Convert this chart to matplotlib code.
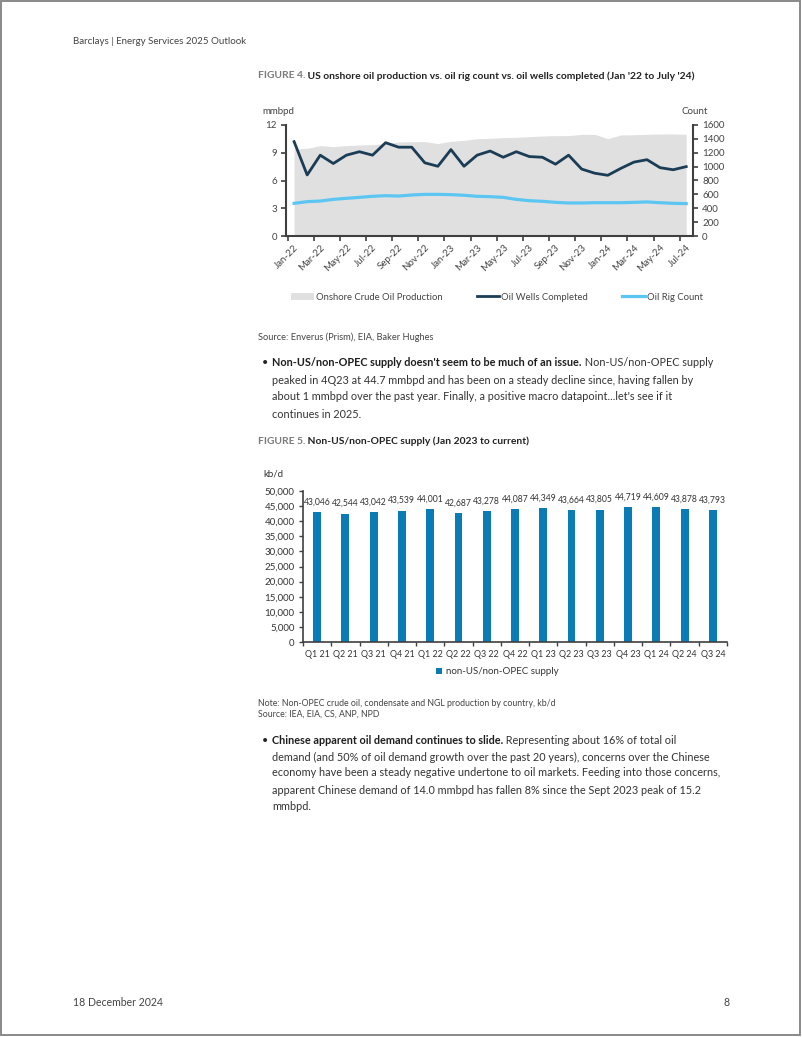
import matplotlib
matplotlib.use('Agg')
import matplotlib.pyplot as plt
from matplotlib.patches import Patch, Rectangle
from matplotlib.lines import Line2D
from matplotlib.ticker import FuncFormatter, FixedLocator
import numpy as np

### Data

months = ['Jan-22', 'Feb-22', 'Mar-22', 'Apr-22', 'May-22', 'Jun-22', 'Jul-22', 'Aug-22',
          'Sep-22', 'Oct-22', 'Nov-22', 'Dec-22', 'Jan-23', 'Feb-23', 'Mar-23', 'Apr-23',
          'May-23', 'Jun-23', 'Jul-23', 'Aug-23', 'Sep-23', 'Oct-23', 'Nov-23', 'Dec-23',
          'Jan-24', 'Feb-24', 'Mar-24', 'Apr-24', 'May-24', 'Jun-24', 'Jul-24']

# onshore crude production, mmbpd (left axis)
production = [9.40, 9.48, 9.77, 9.66, 9.77, 9.84, 9.87, 10.00, 10.16, 10.20, 10.20, 10.00,
              10.23, 10.34, 10.52, 10.56, 10.63, 10.67, 10.74, 10.81, 10.85, 10.85, 10.99,
              10.99, 10.52, 10.92, 10.95, 10.99, 11.03, 11.03, 10.99]

# oil wells completed, count (right axis)
wells = [1360, 880, 1165, 1045, 1165, 1215, 1165, 1345, 1280, 1280, 1055, 1005, 1245, 1005,
         1165, 1225, 1135, 1215, 1145, 1135, 1035, 1165, 965, 905, 875, 975, 1065, 1100,
         985, 955, 1000]

# oil rig count (right axis)
rigs = [471, 495, 504, 528, 543, 557, 572, 581, 576, 591, 600, 600, 596, 587, 572, 567,
        557, 528, 509, 500, 485, 476, 476, 480, 480, 480, 485, 491, 480, 471, 467]

quarters = ['Q1 21', 'Q2 21', 'Q3 21', 'Q4 21', 'Q1 22', 'Q2 22', 'Q3 22', 'Q4 22',
            'Q1 23', 'Q2 23', 'Q3 23', 'Q4 23', 'Q1 24', 'Q2 24', 'Q3 24']
supply = [43046, 42544, 43042, 43539, 44001, 42687, 43278, 44087, 44349, 43664, 43805,
          44719, 44609, 43878, 43793]

### Styling

W, H = 802, 1037
FONT = 'Lato'
plt.rcParams['font.family'] = [FONT, 'DejaVu Sans']

c_area = '#e0e0e0'
c_wells = '#1b3c55'
c_rigs = '#5cc6f2'
c_bar = '#0a7bb5'
c_axis = '#404040'
c_text = '#333333'
c_grey = '#7a7a7a'

def fx(x):
    return x / W

def fy(y):
    return 1 - y / H

fig = plt.figure(figsize=(W / 100, H / 100), dpi=100)
fig.patch.set_facecolor('white')
fig.patches.append(Rectangle((fx(1), fy(1035)), fx(799), 1034 / H, transform=fig.transFigure,
                             fill=False, ec='#808080', lw=1.3))

# header / footer
fig.text(fx(73), fy(42), 'Barclays | Energy Services 2025 Outlook', fontsize=7.0,
         color='#444444', va='center')
fig.text(fx(73), fy(1003), '18 December 2024', fontsize=7.6, color='#444444', va='center')
fig.text(fx(727), fy(1003), '8', fontsize=7.6, color='#444444', va='center', ha='center')

renderer = fig.canvas.get_renderer()

def two_part(x, y, first, second, size, c1, c2, w1='bold', w2='normal'):
    t = fig.text(fx(x), fy(y), first, fontsize=size, color=c1, weight=w1, va='center')
    bb = t.get_window_extent(renderer)
    fig.text(bb.x1 / W, fy(y), second, fontsize=size, color=c2, weight=w2, va='center')

def bullet(x, ys, lines, bold):
    fig.text(fx(x - 10), fy(ys[0]), '\u2022', fontsize=7.8, color='#222222', va='center')
    two_part(x, ys[0], bold, ' ' + lines[0], 7.8, '#1e1e1e', c_text)
    for y, line in zip(ys[1:], lines[1:]):
        fig.text(fx(x), fy(y), line, fontsize=7.8, color=c_text, va='center')

### Figure 4

two_part(258, 76, 'FIGURE 4.', ' US onshore oil production vs. oil rig count vs. oil wells completed (Jan \'22 to July \'24)',
         7.4, c_grey, '#222222', 'bold', 'bold')

ax1 = fig.add_axes([fx(286), fy(236), fx(693) - fx(286), fy(125) - fy(236)])
ax1b = ax1.twinx()
x = np.arange(len(months))

ax1.fill_between(x, production, 0, color=c_area, lw=0)
ax1b.plot(x, wells, color=c_wells, lw=2.0)
ax1b.plot(x, rigs, color=c_rigs, lw=2.3)

ax1.set_xlim(-0.62, len(months) - 0.48)
ax1.set_ylim(0, 12)
ax1.set_yticks([0, 3, 6, 9, 12])
ax1b.set_ylim(0, 1600)
ax1b.set_yticks(range(0, 1601, 200))

ax1.set_xticks(x[::2])
ax1.set_xticklabels(months[::2], rotation=45, ha='right', va='top', rotation_mode='anchor')
ax1.xaxis.set_minor_locator(FixedLocator(x[::2] - 0.5))
ax1.tick_params(axis='x', which='major', length=0, pad=5, labelsize=7, labelcolor='#444444')
ax1.tick_params(axis='x', which='minor', length=3.5, width=1.2, color=c_axis, direction='out')
ax1.tick_params(axis='y', length=3.5, width=1.2, color=c_axis, labelsize=7, labelcolor='#444444', pad=3)
ax1b.tick_params(axis='y', length=3.5, width=1.2, color=c_axis, labelsize=7, labelcolor='#444444', pad=3)

for a in (ax1, ax1b):
    a.spines['top'].set_visible(False)
    for s in ('left', 'right', 'bottom'):
        a.spines[s].set_color(c_axis)
        a.spines[s].set_linewidth(1.5)
ax1.spines['right'].set_visible(False)
ax1b.spines['left'].set_visible(False)
ax1b.spines['bottom'].set_visible(False)

fig.text(fx(262), fy(112), 'mmbpd', fontsize=7, color='#444444', va='center')
fig.text(fx(708), fy(112), 'Count', fontsize=7, color='#444444', va='center', ha='right')

handles1 = [Patch(facecolor=c_area, edgecolor='none'),
            Line2D([], [], color=c_wells, lw=2.0),
            Line2D([], [], color=c_rigs, lw=2.3)]
fig.legend(handles1, ['Onshore Crude Oil Production', 'Oil Wells Completed', 'Oil Rig Count'],
           loc='center', bbox_to_anchor=(fx(497), fy(297)), ncol=3, frameon=False,
           fontsize=6.8, labelcolor='#444444', handlelength=2.4, handletextpad=0.2,
           columnspacing=3.6)

fig.text(fx(258), fy(337), 'Source: Enverus (Prism), EIA, Baker Hughes', fontsize=6.7, color='#444444', va='center')

bullet(272, [363, 380, 397, 414],
       ['Non-US/non-OPEC supply',
        'peaked in 4Q23 at 44.7 mmbpd and has been on a steady decline since, having fallen by',
        'about 1 mmbpd over the past year. Finally, a positive macro datapoint...let\'s see if it',
        'continues in 2025.'],
       'Non-US/non-OPEC supply doesn\'t seem to be much of an issue.')

### Figure 5

two_part(258, 441, 'FIGURE 5.', ' Non-US/non-OPEC supply (Jan 2023 to current)', 7.4, c_grey, '#222222', 'bold', 'bold')

ax2 = fig.add_axes([fx(303), fy(642), fx(727) - fx(303), fy(491) - fy(642)])
xq = np.arange(len(quarters))
bars = ax2.bar(xq, supply, width=0.28, color=c_bar)
ax2.bar_label(bars, labels=[f'{v:,}' for v in supply], padding=4, fontsize=6.2, color='#333333')

ax2.set_xlim(-0.5, len(quarters) - 0.5)
ax2.set_ylim(0, 50000)
ax2.set_yticks(range(0, 50001, 5000))
ax2.yaxis.set_major_formatter(FuncFormatter(lambda v, p: f'{int(v):,}'))
ax2.set_xticks(xq)
ax2.set_xticklabels(quarters)
ax2.xaxis.set_minor_locator(FixedLocator(np.arange(len(quarters) + 1) - 0.5))
ax2.tick_params(axis='x', which='major', length=0, pad=6, labelsize=6.4, labelcolor='#333333')
ax2.tick_params(axis='x', which='minor', length=3, width=1, color=c_axis)
ax2.tick_params(axis='y', length=3, width=1, color=c_axis, labelsize=7, labelcolor='#333333', pad=3)
for s in ('top', 'right'):
    ax2.spines[s].set_visible(False)
for s in ('left', 'bottom'):
    ax2.spines[s].set_color(c_axis)
    ax2.spines[s].set_linewidth(1.2)

fig.text(fx(263), fy(474), 'kb/d', fontsize=7, color='#333333', va='center')

fig.legend([Patch(facecolor=c_bar, edgecolor='none')], ['non-US/non-OPEC supply'],
           loc='center', bbox_to_anchor=(fx(497), fy(672)), frameon=False, fontsize=7,
           labelcolor='#333333', handlelength=0.6, handleheight=0.6, handletextpad=0.4)

fig.text(fx(258), fy(703), 'Note: Non-OPEC crude oil, condensate and NGL production by country, kb/d',
         fontsize=6.3, color='#444444', va='center')
fig.text(fx(258), fy(714), 'Source: IEA, EIA, CS, ANP, NPD', fontsize=6.3, color='#444444', va='center')

bullet(272, [740, 757, 773, 790, 807],
       ['Representing about 16% of total oil',
        'demand (and 50% of oil demand growth over the past 20 years), concerns over the Chinese',
        'economy have been a steady negative undertone to oil markets. Feeding into those concerns,',
        'apparent Chinese demand of 14.0 mmbpd has fallen 8% since the Sept 2023 peak of 15.2',
        'mmbpd.'],
       'Chinese apparent oil demand continues to slide.')

fig.savefig('out.png', dpi=100)
